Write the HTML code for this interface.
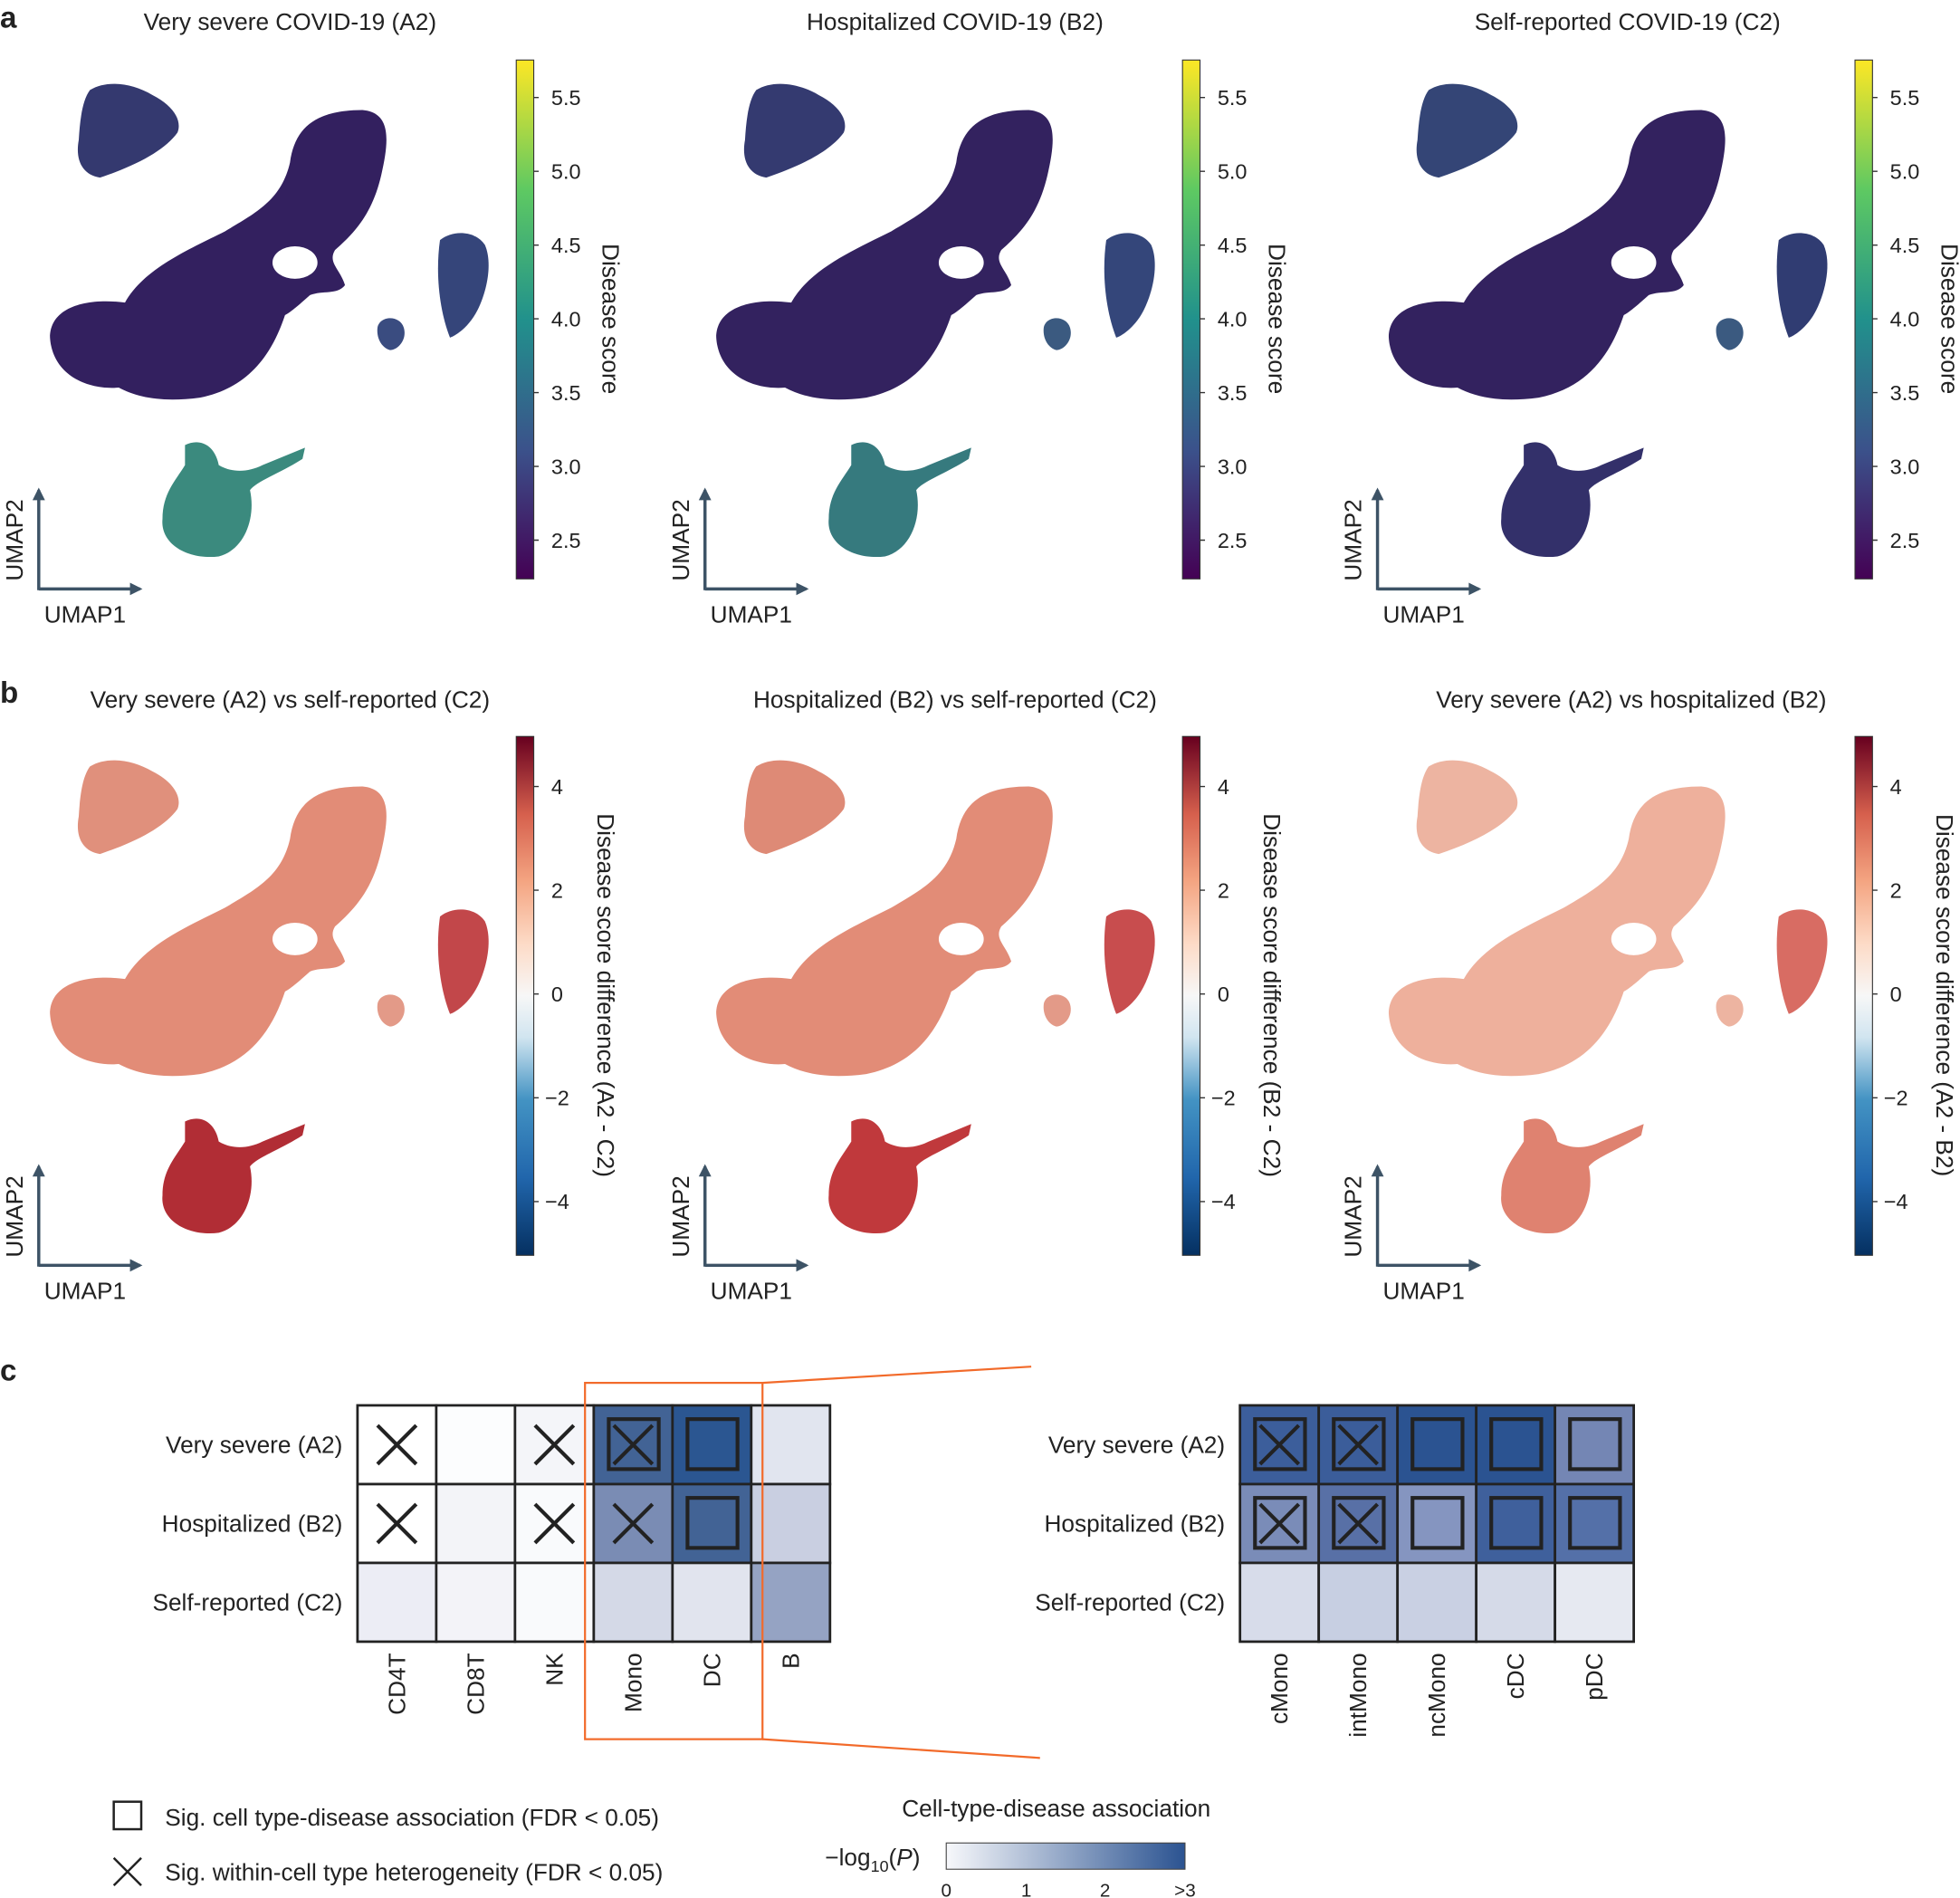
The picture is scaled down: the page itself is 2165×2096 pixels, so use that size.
<!DOCTYPE html>
<html><head><meta charset="utf-8"><style>html,body{margin:0;padding:0;background:#fff}svg{display:block}text{font-family:"Liberation Sans",sans-serif;fill:#222}</style></head>
<body>
<svg width="2165" height="2096" viewBox="0 0 1568 1518" xmlns="http://www.w3.org/2000/svg" xmlns:xlink="http://www.w3.org/1999/xlink">
<defs>
<linearGradient id="vir" x1="0" y1="1" x2="0" y2="0">
<stop offset="0" stop-color="#440154"/><stop offset="0.25" stop-color="#3b528b"/><stop offset="0.5" stop-color="#21918c"/><stop offset="0.75" stop-color="#5ec962"/><stop offset="1" stop-color="#fde725"/></linearGradient>
<linearGradient id="rdbu" x1="0" y1="1" x2="0" y2="0">
<stop offset="0" stop-color="#053061"/><stop offset="0.15" stop-color="#2166ac"/><stop offset="0.3" stop-color="#4393c3"/><stop offset="0.42" stop-color="#d1e5f0"/><stop offset="0.5" stop-color="#f7f7f7"/><stop offset="0.6" stop-color="#fddbc7"/><stop offset="0.72" stop-color="#f4a582"/><stop offset="0.85" stop-color="#d6604d"/><stop offset="1" stop-color="#67001f"/></linearGradient>
<linearGradient id="blu" x1="0" y1="0" x2="1" y2="0"><stop offset="0" stop-color="#f7f8fb"/><stop offset="1" stop-color="#2b5391"/></linearGradient>
<path id="s1" d="M72,72 C85,64 105,66 122,76 C138,84 146,96 142,106 C132,120 110,132 80,142 C66,140 60,128 63,112 C64,95 66,80 72,72 Z"/>
<path id="s2" d="M40,270 C40,245 70,238 100,242 C115,215 150,200 180,185 C205,170 225,160 232,130 C236,100 255,88 290,88 C312,90 312,110 305,140 C298,170 285,185 268,200 C262,210 272,215 276,228 C270,236 258,232 248,236 C238,245 232,250 228,252 C218,282 200,310 160,318 C130,322 110,318 95,310 C70,312 42,300 40,270 Z"/>
<path id="s3" d="M302,262 C304,252 320,252 323,262 C326,272 318,280 312,280 C305,278 301,270 302,262 Z"/>
<path id="s4" d="M352,192 C362,184 380,184 388,196 C394,210 390,232 382,248 C376,260 366,268 360,270 C352,250 348,220 352,192 Z"/>
<path id="s5" d="M148,356 C160,350 172,356 175,372 C185,378 198,378 210,372 L244,358 L242,367 C225,378 205,385 200,392 C205,415 195,440 175,445 C150,448 128,435 130,415 C130,395 140,385 148,372 Z"/>
<g id="axes"><path d="M31,472 V392 M31,471 H112" stroke="#3d5366" stroke-width="2.5" fill="none"/><path d="M26,400 L31,390 L36,400 Z M104,466 L114,471 L104,476 Z" fill="#3d5366"/><text x="18" y="432" font-size="19" text-anchor="middle" transform="rotate(-90 18 432)">UMAP2</text><text x="68" y="498" font-size="19" text-anchor="middle">UMAP1</text></g>
<g id="vcb"><rect x="413" y="48" width="14" height="415" fill="url(#vir)" stroke="#333" stroke-width="0.8"/>
<g font-size="17"><text x="441" y="84">5.5</text><text x="441" y="143">5.0</text><text x="441" y="202">4.5</text><text x="441" y="261">4.0</text><text x="441" y="320">3.5</text><text x="441" y="379">3.0</text><text x="441" y="438">2.5</text></g>
<path d="M427,78h4M427,137h4M427,196h4M427,255h4M427,314h4M427,373h4M427,432h4" stroke="#333"/>
<text x="482" y="255" font-size="19" text-anchor="middle" transform="rotate(90 482 255)">Disease score</text></g>
<g id="rcb"><rect x="413" y="48" width="14" height="415" fill="url(#rdbu)" stroke="#333" stroke-width="0.8"/>
<g font-size="17"><text x="441" y="94">4</text><text x="441" y="177">2</text><text x="441" y="260">0</text><text x="436" y="343">−2</text><text x="436" y="426">−4</text></g>
<path d="M427,88h4M427,171h4M427,254h4M427,337h4M427,420h4" stroke="#333"/></g>
</defs>
<text x="0" y="22" font-size="24" font-weight="bold">a</text>
<text x="0" y="562" font-size="24" font-weight="bold">b</text>
<text x="0" y="1104" font-size="24" font-weight="bold">c</text>
<g font-size="19" text-anchor="middle">
<text x="232" y="24">Very severe COVID-19 (A2)</text><text x="764" y="24">Hospitalized COVID-19 (B2)</text><text x="1302" y="24">Self-reported COVID-19 (C2)</text>
<text x="232" y="566">Very severe (A2) vs self-reported (C2)</text><text x="764" y="566">Hospitalized (B2) vs self-reported (C2)</text><text x="1305" y="566">Very severe (A2) vs hospitalized (B2)</text></g>
<!-- panel a -->
<g><use xlink:href="#s1" fill="#34396f"/><use xlink:href="#s2" fill="#33205f"/><ellipse cx="236" cy="210" rx="18" ry="13" fill="#fff"/><use xlink:href="#s3" fill="#3a4c80"/><use xlink:href="#s4" fill="#35457a"/><use xlink:href="#s5" fill="#3b8a7e"/><use xlink:href="#axes"/><use xlink:href="#vcb"/></g>
<g transform="translate(533,0)"><use xlink:href="#s1" fill="#343a70"/><use xlink:href="#s2" fill="#33225f"/><ellipse cx="236" cy="210" rx="18" ry="13" fill="#fff"/><use xlink:href="#s3" fill="#3b5a80"/><use xlink:href="#s4" fill="#34467a"/><use xlink:href="#s5" fill="#367a7e"/><use xlink:href="#axes"/><use xlink:href="#vcb"/></g>
<g transform="translate(1071,0)"><use xlink:href="#s1" fill="#344576"/><use xlink:href="#s2" fill="#33225f"/><ellipse cx="236" cy="210" rx="18" ry="13" fill="#fff"/><use xlink:href="#s3" fill="#3b5a80"/><use xlink:href="#s4" fill="#303c72"/><use xlink:href="#s5" fill="#33306a"/><use xlink:href="#axes"/><use xlink:href="#vcb"/></g>
<!-- panel b -->
<g transform="translate(0,541)"><use xlink:href="#s1" fill="#e0907c"/><use xlink:href="#s2" fill="#e28c77"/><ellipse cx="236" cy="210" rx="18" ry="13" fill="#fff"/><use xlink:href="#s3" fill="#e39a88"/><use xlink:href="#s4" fill="#c2474a"/><use xlink:href="#s5" fill="#b12d35"/><use xlink:href="#axes"/><use xlink:href="#rcb"/><text x="478" y="255" font-size="19" text-anchor="middle" transform="rotate(90 478 255)">Disease score difference (A2 - C2)</text></g>
<g transform="translate(533,541)"><use xlink:href="#s1" fill="#de8a76"/><use xlink:href="#s2" fill="#e28c77"/><ellipse cx="236" cy="210" rx="18" ry="13" fill="#fff"/><use xlink:href="#s3" fill="#e39a88"/><use xlink:href="#s4" fill="#c84d4e"/><use xlink:href="#s5" fill="#c0393c"/><use xlink:href="#axes"/><use xlink:href="#rcb"/><text x="478" y="255" font-size="19" text-anchor="middle" transform="rotate(90 478 255)">Disease score difference (B2 - C2)</text></g>
<g transform="translate(1071,541)"><use xlink:href="#s1" fill="#edb4a1"/><use xlink:href="#s2" fill="#eeb09c"/><ellipse cx="236" cy="210" rx="18" ry="13" fill="#fff"/><use xlink:href="#s3" fill="#edb4a1"/><use xlink:href="#s4" fill="#d86c63"/><use xlink:href="#s5" fill="#df8270"/><use xlink:href="#axes"/><use xlink:href="#rcb"/><text x="478" y="255" font-size="19" text-anchor="middle" transform="rotate(90 478 255)">Disease score difference (A2 - B2)</text></g>
<!-- panel c heatmap 1 -->
<g stroke="#222" stroke-width="2">
<rect x="286" y="1124" width="63" height="63" fill="#fff"/><rect x="349" y="1124" width="63" height="63" fill="#fcfdfe"/><rect x="412" y="1124" width="63" height="63" fill="#f4f5f9"/><rect x="475" y="1124" width="63" height="63" fill="#426395"/><rect x="538" y="1124" width="63" height="63" fill="#2b5691"/><rect x="601" y="1124" width="63" height="63" fill="#e1e5ef"/>
<rect x="286" y="1187" width="63" height="63" fill="#fff"/><rect x="349" y="1187" width="63" height="63" fill="#f3f4f8"/><rect x="412" y="1187" width="63" height="63" fill="#f9fafc"/><rect x="475" y="1187" width="63" height="63" fill="#7a8cb4"/><rect x="538" y="1187" width="63" height="63" fill="#426395"/><rect x="601" y="1187" width="63" height="63" fill="#c9cfe1"/>
<rect x="286" y="1250" width="63" height="63" fill="#ecedf5"/><rect x="349" y="1250" width="63" height="63" fill="#f3f3f8"/><rect x="412" y="1250" width="63" height="63" fill="#f9fafc"/><rect x="475" y="1250" width="63" height="63" fill="#d4d9e7"/><rect x="538" y="1250" width="63" height="63" fill="#e1e4ee"/><rect x="601" y="1250" width="63" height="63" fill="#95a3c3"/>
</g>
<g stroke="#222" stroke-width="3" fill="none">
<path d="M302,1140l31,31M333,1140l-31,31M428,1140l31,31M459,1140l-31,31M302,1203l31,31M333,1203l-31,31M428,1203l31,31M459,1203l-31,31M491,1140l31,31M522,1140l-31,31M491,1203l31,31M522,1203l-31,31"/>
<rect x="487" y="1135" width="40" height="40"/><rect x="550" y="1135" width="40" height="40"/><rect x="550" y="1198" width="40" height="40"/>
</g>
<g stroke="#f26a2a" stroke-width="1.6" fill="none"><rect x="468" y="1106" width="142" height="285"/><path d="M610,1106 L825,1093 M610,1391 L832,1406"/></g>
<!-- heatmap 2 -->
<g stroke="#222" stroke-width="2">
<rect x="992" y="1124" width="63" height="63" fill="#3c5e9b"/><rect x="1055" y="1124" width="63" height="63" fill="#3b5d9a"/><rect x="1118" y="1124" width="63" height="63" fill="#2b5391"/><rect x="1181" y="1124" width="63" height="63" fill="#2b5391"/><rect x="1244" y="1124" width="63" height="63" fill="#7486b4"/>
<rect x="992" y="1187" width="63" height="63" fill="#7a8cb8"/><rect x="1055" y="1187" width="63" height="63" fill="#5870a6"/><rect x="1118" y="1187" width="63" height="63" fill="#8595c0"/><rect x="1181" y="1187" width="63" height="63" fill="#3f609c"/><rect x="1244" y="1187" width="63" height="63" fill="#5470a8"/>
<rect x="992" y="1250" width="63" height="63" fill="#d7dcea"/><rect x="1055" y="1250" width="63" height="63" fill="#c7cfe2"/><rect x="1118" y="1250" width="63" height="63" fill="#c9d0e3"/><rect x="1181" y="1250" width="63" height="63" fill="#d5dae8"/><rect x="1244" y="1250" width="63" height="63" fill="#e6e9f1"/>
</g>
<g stroke="#222" stroke-width="3" fill="none">
<rect x="1004" y="1135" width="40" height="40"/><rect x="1067" y="1135" width="40" height="40"/><rect x="1130" y="1135" width="40" height="40"/><rect x="1193" y="1135" width="40" height="40"/><rect x="1256" y="1135" width="40" height="40"/>
<rect x="1004" y="1198" width="40" height="40"/><rect x="1067" y="1198" width="40" height="40"/><rect x="1130" y="1198" width="40" height="40"/><rect x="1193" y="1198" width="40" height="40"/><rect x="1256" y="1198" width="40" height="40"/>
<path d="M1008,1140l31,31M1039,1140l-31,31M1071,1140l31,31M1102,1140l-31,31M1008,1203l31,31M1039,1203l-31,31M1071,1203l31,31M1102,1203l-31,31"/>
</g>
<g font-size="19" text-anchor="end">
<text x="274" y="1162">Very severe (A2)</text><text x="274" y="1225">Hospitalized (B2)</text><text x="274" y="1288">Self-reported (C2)</text>
<text x="980" y="1162">Very severe (A2)</text><text x="980" y="1225">Hospitalized (B2)</text><text x="980" y="1288">Self-reported (C2)</text>
</g>
<g font-size="19" text-anchor="end">
<text transform="translate(324,1322) rotate(-90)">CD4T</text><text transform="translate(387,1322) rotate(-90)">CD8T</text><text transform="translate(450,1322) rotate(-90)">NK</text><text transform="translate(513,1322) rotate(-90)">Mono</text><text transform="translate(576,1322) rotate(-90)">DC</text><text transform="translate(639,1322) rotate(-90)">B</text>
<text transform="translate(1030,1322) rotate(-90)">cMono</text><text transform="translate(1093,1322) rotate(-90)">intMono</text><text transform="translate(1156,1322) rotate(-90)">ncMono</text><text transform="translate(1219,1322) rotate(-90)">cDC</text><text transform="translate(1282,1322) rotate(-90)">pDC</text>
</g>
<!-- legend -->
<rect x="91" y="1441" width="22" height="22" fill="none" stroke="#222" stroke-width="1.8"/>
<path d="M91,1486l22,22M113,1486l-22,22" stroke="#222" stroke-width="1.8"/>
<text x="132" y="1460" font-size="19">Sig. cell type-disease association (FDR &lt; 0.05)</text>
<text x="132" y="1504" font-size="19">Sig. within-cell type heterogeneity (FDR &lt; 0.05)</text>
<text x="845" y="1453" font-size="19" text-anchor="middle">Cell-type-disease association</text>
<text x="660" y="1492" font-size="19">−log<tspan font-size="13" dy="5">10</tspan><tspan dy="-5">(</tspan><tspan font-style="italic">P</tspan>)</text>
<rect x="757" y="1474" width="191" height="21" fill="url(#blu)" stroke="#444" stroke-width="0.8"/>
<g font-size="15" text-anchor="middle"><text x="757" y="1517">0</text><text x="821" y="1517">1</text><text x="884" y="1517">2</text><text x="948" y="1517">&gt;3</text></g>
</svg>
</body></html>
